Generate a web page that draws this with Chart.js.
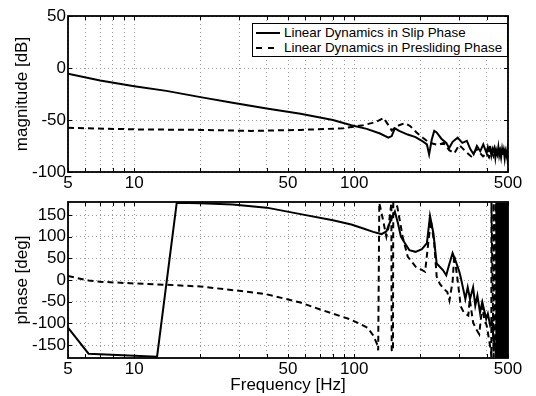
<!DOCTYPE html>
<html>
<head>
<meta charset="utf-8">
<script src="https://cdn.jsdelivr.net/npm/chart.js@4/dist/chart.umd.min.js"></script>
<style>
html,body{margin:0;padding:0;background:#fff;}
#wrap{position:relative;width:536px;height:396px;overflow:hidden;background:#fff;}
#c1{position:absolute;left:0;top:0;}
#c2{position:absolute;left:0;top:195px;}
#legend{position:absolute;left:252px;top:23px;width:254px;height:32px;border:1px solid #000;background:#fff;font-family:"Liberation Sans",Arial,Helvetica,sans-serif;font-size:13.4px;color:#000;}
.row{position:absolute;left:0;height:16px;line-height:16px;white-space:nowrap;}
.row svg{position:absolute;left:2px;top:0;}
.txt{position:absolute;left:31px;top:0;}
</style>
</head>
<body>
<div id="wrap">
  <canvas id="c1" width="536" height="195"></canvas>
  <canvas id="c2" width="536" height="201"></canvas>
  <div id="legend">
    <div class="row" style="top:1px;"><svg width="26" height="16"><line x1="1" y1="8" x2="25" y2="8" stroke="#000" stroke-width="2"/></svg><span class="txt">Linear Dynamics in Slip Phase</span></div>
    <div class="row" style="top:16px;"><svg width="26" height="16"><line x1="1" y1="8" x2="25" y2="8" stroke="#000" stroke-width="2" stroke-dasharray="6,6"/></svg><span class="txt">Linear Dynamics in Presliding Phase</span></div>
  </div>
</div>
<script>
// ---------- data ----------
const xGridTicks = [5,6,7,8,9,10,20,30,40,50,60,70,80,90,100,200,300,400,500];
const xLabelTicks = [5,10,50,100,500];
const magTicks = [-100,-50,0,50];
const phaseTicks = [-150,-100,-50,0,50,100,150];

const magSlipFreq = [5,7,10,14,20,28,40,57,80,97,114,131,143,148,153,160,175,190,203,214,219,225,231,237,249,262,270,280,295,310,325,337,349,361,374,386,400,405,410,414,420,425,428,433,438,442,447,452,456,460,465,470,474,478,483,487,492,496,500];
const magSlipDb   = [-5.4,-12,-17.5,-22,-28,-33.5,-39,-44,-50,-55,-58.5,-63,-67,-65.5,-58,-60.5,-64,-66.5,-70,-73.5,-83,-69,-60.5,-62,-68,-72,-77,-71,-67,-72,-70,-78,-83,-75,-80,-73.5,-82,-76,-80,-75,-84,-78,-80,-77,-86,-79,-83,-76,-84,-80,-86,-78,-83,-79,-87,-80,-84,-79,-93];

const magPreFreq = [5,10,20,34,57,89,110,125,136,143,148,152,160,170,180,192,205,220,240,255,270,285,300,320,340,360,385,400,410,420,430,440,450,460,470,480,490,500];
const magPreDb   = [-57.5,-59,-59.5,-60.5,-59.5,-58,-55,-52,-48,-55,-60,-58,-55,-53,-56,-62,-67,-72,-74,-72,-79,-82,-74,-80,-85,-78,-85,-82,-86,-80,-85,-79,-83,-78,-84,-80,-85,-81];

const phSlipFreq = [5,6.2,12.7,15.6,20,28,40,57,80,97,110,122,133,140,147,153,158,163,170,178,190,203,214,221,229,237,253,262,270,280,290,300,305,313,320,328,336,347,355,363,373,382,398,405,415,423,430,437,442,442.5,448,448.5,454,454.5,460,460.5,466,466.5,472,472.5,478,478.5,484,484.5,490,490.5,496,496.5,500];
const phSlipDeg  = [-110,-170,-177,178,177,174,167,152,138,128,119,111,106,112,140,158,131,100,85,69,65,71,85,148,108,38,23,11,35,62,42,20,6,-21,-44,-17,-44,-17,-59,-36,-75,-51,-90,-78,-105,-98,-136,-155,-178,178,-178,178,-178,178,-178,178,-178,178,-178,178,-178,178,-178,178,-178,178,-178,178,60];

const phPreFreq = [5,6.2,7,10,14,20,30,40,57,70,96,115,122,127,128.5,130,135,140,143,147.5,148,150,150.5,154,157,161,166,175,190,210,217,223,231,237,245,255,265,271,280,285,295,305,315,330,335,347,358,370,382,390,400,412,418,420,420.5,430,430.5,440,440.5,450,450.5,460,460.5,470,470.5,480,480.5,490,490.5,500];
const phPreDeg  = [9,-1,-4,-8,-11,-15,-25,-33,-52,-68,-91,-110,-128,-148,-162,178,140,100,120,178,-162,-165,178,176,169,138,100,54,31,19,85,138,85,8,-9,-20,-28,-47,-4,58,0,-61,-75,-82,-44,-98,-113,-125,-60,-90,-105,-144,-165,-178,178,-178,178,-178,178,-178,178,-178,178,-178,178,-178,178,-178,178,-178];

// ---------- helpers ----------
const FONT = "'Liberation Sans', Arial, Helvetica, sans-serif";
function pts(f, v){ return f.map((x,i)=>({x:x, y:v[i]})); }

const framePlugin = {
  id:'frame',
  afterDatasetsDraw(chart){
    const ctx = chart.ctx, a = chart.chartArea, sx = chart.scales.x, sy = chart.scales.y;
    ctx.save();
    ctx.strokeStyle = '#000';
    ctx.lineWidth = 1;
    ctx.beginPath();
    xGridTicks.forEach(v=>{
      const x = Math.round(sx.getPixelForValue(v)) + 0.5;
      ctx.moveTo(x, a.top); ctx.lineTo(x, a.top + 4);
      ctx.moveTo(x, a.bottom); ctx.lineTo(x, a.bottom - 4);
    });
    sy.ticks.forEach(t=>{
      const y = Math.round(sy.getPixelForValue(t.value)) + 0.5;
      ctx.moveTo(a.left, y); ctx.lineTo(a.left + 4, y);
      ctx.moveTo(a.right, y); ctx.lineTo(a.right - 4, y);
    });
    ctx.stroke();
    ctx.lineWidth = 1.8;
    ctx.strokeRect(a.left, a.top, a.right - a.left, a.bottom - a.top);
    ctx.restore();
  }
};

function makeOptions(yMin, yMax, yTicks, yTitle, xTitle, padTop, xHeight){
  return {
    responsive:false, animation:false, devicePixelRatio:1,
    layout:{padding:{left:0, right:28, top:padTop, bottom:0}},
    plugins:{legend:{display:false}, tooltip:{enabled:false}},
    elements:{point:{radius:0}, line:{tension:0}},
    scales:{
      x:{
        type:'logarithmic', min:5, max:500,
        afterBuildTicks(s){ s.ticks = xGridTicks.map(v=>({value:v})); },
        afterFit(s){ s.height = xHeight; s.paddingLeft = 0; s.paddingRight = 0; },
        ticks:{autoSkip:false, maxRotation:0, minRotation:0, padding:1, color:'#000',
               font:{family:FONT, size:17},
               callback:(v)=> xLabelTicks.includes(v) ? String(v) : ''},
        grid:{color:'#9a9a9a', lineWidth:1, drawTicks:false},
        border:{display:false, dash:[1,3]},
        title: xTitle ? {display:true, text:xTitle, color:'#000', font:{family:FONT, size:17}, padding:{top:0, bottom:0}} : {display:false}
      },
      y:{
        type:'linear', min:yMin, max:yMax,
        afterBuildTicks(s){ s.ticks = yTicks.map(v=>({value:v})); },
        afterFit(s){ s.width = 68; s.paddingTop = 0; s.paddingBottom = 0; },
        ticks:{padding:2, color:'#000', font:{family:FONT, size:17}, callback:(v)=>String(v)},
        grid:{color:'#9a9a9a', lineWidth:1, drawTicks:false},
        border:{display:false, dash:[1,3]},
        title:{display:true, text:yTitle, color:'#000', font:{family:FONT, size:17}, padding:{top:12, bottom:0}}
      }
    }
  };
}

const solidStyle = {borderColor:'#000', borderWidth:2, fill:false, pointRadius:0};
const dashStyle  = {borderColor:'#000', borderWidth:2, fill:false, pointRadius:0, borderDash:[6,4]};

new Chart(document.getElementById('c1'), {
  type:'line',
  data:{datasets:[
    Object.assign({label:'Linear Dynamics in Slip Phase', data:pts(magSlipFreq, magSlipDb)}, solidStyle),
    Object.assign({label:'Linear Dynamics in Presliding Phase', data:pts(magPreFreq, magPreDb)}, dashStyle)
  ]},
  options:makeOptions(-100, 50, magTicks, 'magnitude [dB]', null, 16, 23),
  plugins:[framePlugin]
});

new Chart(document.getElementById('c2'), {
  type:'line',
  data:{datasets:[
    Object.assign({label:'Linear Dynamics in Slip Phase', data:pts(phSlipFreq, phSlipDeg)}, solidStyle),
    Object.assign({label:'Linear Dynamics in Presliding Phase', data:pts(phPreFreq, phPreDeg)}, dashStyle)
  ]},
  options:makeOptions(-180, 180, phaseTicks, 'phase [deg]', 'Frequency [Hz]', 7, 38),
  plugins:[framePlugin]
});
</script>
</body>
</html>
